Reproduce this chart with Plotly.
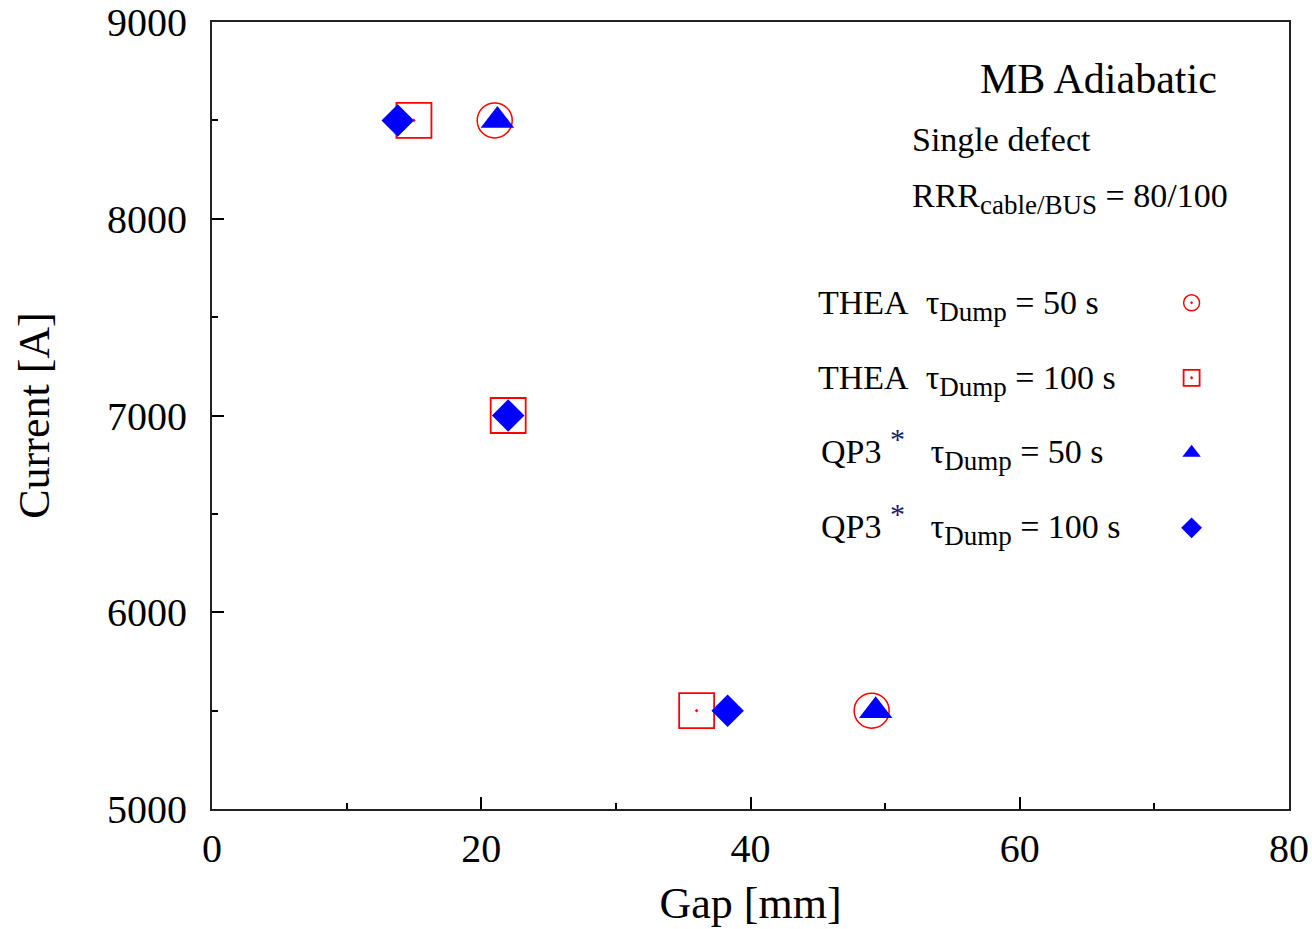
import plotly.graph_objects as go

# Data
thea50_gap = [21.0, 49.0]
thea50_cur = [8500, 5500]
thea100_gap = [15.0, 22.0, 36.0]
thea100_cur = [8500, 7000, 5500]
qp50_gap = [21.2, 49.3]
qp50_cur = [8500, 5500]
qp100_gap = [13.8, 22.0, 38.3]
qp100_cur = [8500, 7000, 5500]

x_ticks = [0, 20, 40, 60, 80]
y_ticks = [5000, 6000, 7000, 8000, 9000]

FONT = "Liberation Serif"
RED = "#ff0000"
BLUE = "#0000ff"

fig = go.Figure()
fig.add_trace(go.Scatter(x=thea50_gap, y=thea50_cur, mode="markers", name=" ",
                         legendgroup="a",
                         marker=dict(symbol="circle-open-dot", size=35, color=RED,
                                     line=dict(width=1.5, color=RED))))
fig.add_trace(go.Scatter(x=thea100_gap, y=thea100_cur, mode="markers", name=" ",
                         legendgroup="b",
                         marker=dict(symbol="square-open-dot", size=35, color=RED,
                                     line=dict(width=1.8, color=RED))))
fig.add_trace(go.Scatter(x=qp50_gap, y=qp50_cur, mode="markers", name=" ",
                         legendgroup="c",
                         marker=dict(symbol="triangle-up", size=29, color=BLUE,
                                     line=dict(width=0))))
fig.add_trace(go.Scatter(x=qp100_gap, y=qp100_cur, mode="markers", name=" ",
                         legendgroup="d",
                         marker=dict(symbol="diamond", size=25, color=BLUE,
                                     line=dict(width=0))))

SUB = "<sub><span style='font-size:27px'>{}</span></sub>"
STAR = "<sup><span style='font-size:30px;color:#1a1a70'>*</span></sup>"
ann_font = dict(family=FONT, size=34, color="black")
annotations = [
    dict(text="MB Adiabatic", x=0.711, y=0.928, font=dict(family=FONT, size=42, color="black")),
    dict(text="Single defect", x=0.648, y=0.851, font=ann_font),
    dict(text="RRR" + SUB.format("cable/BUS") + " = 80/100", x=0.648, y=0.776, font=ann_font),
    dict(text="THEA&nbsp; τ" + SUB.format("Dump") + " = 50 s", x=0.5612, y=0.640, font=ann_font),
    dict(text="THEA&nbsp; τ" + SUB.format("Dump") + " = 100 s", x=0.5612, y=0.545, font=ann_font),
    dict(text="QP3 " + STAR + "&nbsp;&nbsp; τ" + SUB.format("Dump") + " = 50 s",
         x=0.5640, y=0.457, font=ann_font),
    dict(text="QP3 " + STAR + "&nbsp;&nbsp; τ" + SUB.format("Dump") + " = 100 s",
         x=0.5640, y=0.362, font=ann_font),
]
for a in annotations:
    a.update(xref="paper", yref="paper", xanchor="left", yanchor="middle", showarrow=False)

axis_common = dict(
    showgrid=False, zeroline=False, showline=True, linecolor="#222222", linewidth=2,
    ticks="inside", tickcolor="black", tickwidth=1.5, ticklen=12,
    tickfont=dict(family=FONT, size=40, color="black"),
    mirror=True, automargin=False,
)

fig.update_layout(
    width=1312, height=929,
    margin=dict(l=212, r=23, t=22, b=120, autoexpand=False),
    paper_bgcolor="white", plot_bgcolor="white",
    showlegend=True,
    legend=dict(x=0.891, y=0.668, xanchor="left", yanchor="top",
                font=dict(family=FONT, size=20), tracegroupgap=46,
                traceorder="grouped", bgcolor="rgba(0,0,0,0)", itemsizing="trace"),
    xaxis=dict(range=[0, 80], tickvals=x_ticks, ticktext=[str(v) for v in x_ticks],
               minor=dict(dtick=10, ticks="inside", ticklen=6, tickcolor="black", tickwidth=1.5),
               title=dict(text="Gap [mm]", font=dict(family=FONT, size=44, color="black"), standoff=17),
               ticklabelstandoff=3,
               **axis_common),
    yaxis=dict(range=[5000, 9000], tickvals=y_ticks, ticktext=[str(v) for v in y_ticks],
               minor=dict(dtick=500, ticks="inside", ticklen=6, tickcolor="black", tickwidth=1.5),
               title=dict(text="Current [A]", font=dict(family=FONT, size=44, color="black"), standoff=44),
               ticklabelstandoff=15,
               **axis_common),
    annotations=annotations,
)

fig.write_html("out.html", config={"displayModeBar": False},
               post_script="document.body.style.margin='0';")
